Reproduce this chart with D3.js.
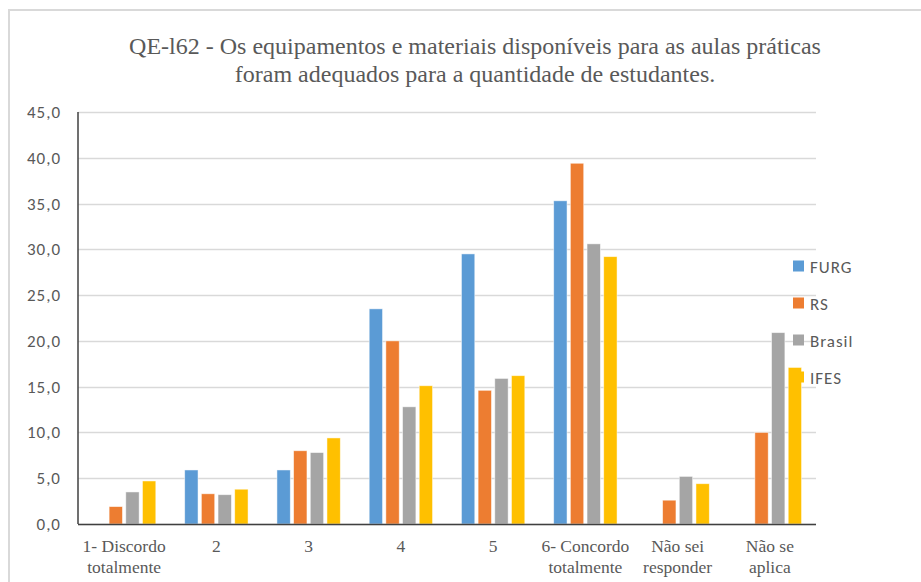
<!DOCTYPE html>
<html>
<head>
<meta charset="utf-8">
<script src="https://cdn.jsdelivr.net/npm/d3@7"></script>
<style>
html,body{margin:0;padding:0;background:#fff;}
svg{display:block;}
</style>
</head>
<body>
<svg id="chart" width="921" height="582"></svg>
<script>
const categories = ["1- Discordo|totalmente","2","3","4","5","6- Concordo|totalmente","Não sei|responder","Não se|aplica"];
const seriesNames = ["FURG","RS","Brasil","IFES"];
const colors = ["#5b9bd5","#ed7d31","#a5a5a5","#ffc000"];
const FURG   = [0, 5.9, 5.9, 23.5, 29.5, 35.3, 0, 0];
const RS     = [1.9, 3.3, 8.0, 20.0, 14.6, 39.4, 2.6, 10.0];
const Brasil = [3.5, 3.2, 7.8, 12.8, 15.9, 30.6, 5.2, 20.9];
const IFES   = [4.7, 3.8, 9.4, 15.1, 16.2, 29.2, 4.4, 17.1];
const yTicks = [0,5,10,15,20,25,30,35,40,45];
const titleLines = ["QE-l62 - Os equipamentos e materiais disponíveis para as aulas práticas","foram adequados para a quantidade de estudantes."];

(function(){
const seriesValues = [FURG, RS, Brasil, IFES];
const svg = d3.select("#chart");
const serif = "'Liberation Serif', 'Times New Roman', Times, serif";
const sans = "Carlito, 'Open Sans', 'Liberation Sans', sans-serif";

// outer chart border (top & left visible)
svg.append("rect").attr("x",9).attr("y",10).attr("width",930).attr("height",600)
  .attr("fill","#fff").attr("stroke","#d9d9d9").attr("stroke-width",2);

const pL = 78, pR = 816, pT = 112, pB = 524;
const x0 = d3.scaleBand().domain(categories).range([pL,pR]).paddingInner(0.277).paddingOuter(0.1385);
const x1 = d3.scaleBand().domain(seriesNames).range([0,x0.bandwidth()]).paddingInner(0.2).paddingOuter(0.1);
const y = d3.scaleLinear().domain([0,45]).range([pB,pT]);

// gridlines
svg.append("g").selectAll("line").data(yTicks).join("line")
  .attr("x1",pL).attr("x2",pR)
  .attr("y1",d=>Math.round(y(d))+0.5).attr("y2",d=>Math.round(y(d))+0.5)
  .attr("stroke","#d9d9d9").attr("stroke-width",1.5);

// y tick labels
const fmt = d=>d3.format(".1f")(d).replace(".",",");
svg.append("g").selectAll("text").data(yTicks).join("text")
  .attr("x",61).attr("y",d=>y(d)+6)
  .attr("text-anchor","end")
  .attr("font-family",sans)
  .attr("font-size","17px").attr("letter-spacing","1px").attr("fill","#595959")
  .text(fmt);

// bars
const rows = categories.map((c,i)=>({cat:c, vals:seriesNames.map((s,j)=>({s, j, v:seriesValues[j][i]}))}));
const g = svg.append("g");
g.selectAll("g").data(rows).join("g")
  .attr("transform",d=>`translate(${x0(d.cat)},0)`)
  .selectAll("rect").data(d=>d.vals.filter(e=>e.v>0)).join("rect")
  .attr("x",d=>x1(d.s)).attr("width",x1.bandwidth())
  .attr("y",d=>y(d.v)).attr("height",d=>y(0)-y(d.v))
  .attr("fill",d=>colors[d.j])
  .attr("stroke","#fff").attr("stroke-opacity",0.6).attr("stroke-width",0.8);

// axes lines
svg.append("line").attr("x1",pL).attr("x2",pL).attr("y1",pT).attr("y2",pB)
  .attr("stroke","#404040").attr("stroke-width",1.5);
svg.append("line").attr("x1",pL).attr("x2",pR).attr("y1",pB+0.5).attr("y2",pB+0.5)
  .attr("stroke","#404040").attr("stroke-width",1.5);

// category labels
const cl = svg.append("g").selectAll("text").data(categories).join("text")
  .attr("x",d=>x0(d)+x0.bandwidth()/2)
  .attr("y",552)
  .attr("text-anchor","middle")
  .attr("font-family",serif)
  .attr("font-size","17.5px").attr("fill","#595959");
cl.each(function(d){
  const parts = d.split("|");
  const t = d3.select(this);
  parts.forEach((p,i)=>t.append("tspan").attr("x",x0(d)+x0.bandwidth()/2).attr("dy",i===0?0:20.5).text(p));
});

// title
svg.append("g").selectAll("text").data(titleLines).join("text")
  .attr("x",475).attr("y",(d,i)=>54+i*27.5)
  .attr("text-anchor","middle")
  .attr("font-family",serif)
  .attr("font-size","24px").attr("fill","#595959")
  .text(d=>d);

// legend
const lg = svg.append("g").selectAll("g").data(seriesNames).join("g")
  .attr("transform",(d,i)=>`translate(793,${266+i*37})`);
lg.append("rect").attr("x",0).attr("y",-5.5).attr("width",11).attr("height",11)
  .attr("fill",(d,i)=>colors[i]);
lg.append("text").attr("x",17).attr("y",6.5)
  .attr("font-family",sans)
  .attr("font-size","17px").attr("letter-spacing","1px").attr("fill","#595959")
  .text(d=>d);
})();
</script>
</body>
</html>
